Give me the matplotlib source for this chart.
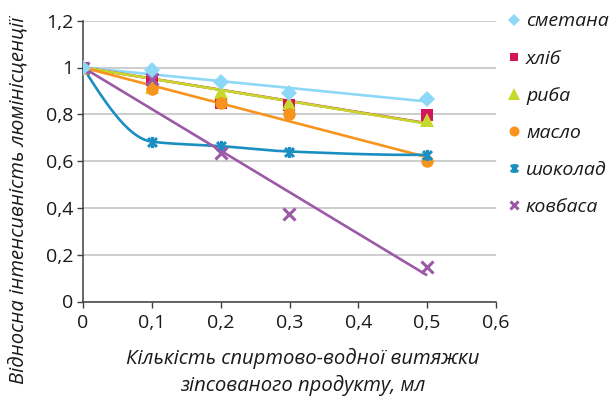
import matplotlib
matplotlib.use("Agg")
import matplotlib.pyplot as plt
from matplotlib.ticker import FuncFormatter
from matplotlib.path import Path
import numpy as np

# data
volume = [0, 0.1, 0.2, 0.3, 0.5]
smetana = [1, 0.99, 0.94, 0.89, 0.865]
khlib = [1, 0.945, 0.85, 0.84, 0.795]
ryba = [1, 0.915, 0.895, 0.85, 0.775]
maslo = [1, 0.91, 0.85, 0.80, 0.60]
shokolad = [1, 0.683, 0.664, 0.641, 0.627]
kovbasa = [1, 0.95, 0.633, 0.372, 0.148]

names = ["сметана", "хліб", "риба", "масло", "шоколад", "ковбаса"]
colors = ["#8dd7f7", "#d4145a", "#c5d92d", "#f7941d", "#1b8fc2", "#9b59a6"]

FONT = "Open Sans"

# excel "star" marker: an x with a vertical stroke
star = Path([(-1, -1), (1, 1), (-1, 1), (1, -1), (0, -1.25), (0, 1.25)],
            [Path.MOVETO, Path.LINETO, Path.MOVETO, Path.LINETO, Path.MOVETO, Path.LINETO])
markers = ["D", "s", "^", "o", star, "x"]
msizes = [8, 8, 10, 9, 8, 8]


def trend_through_one(x, y):
    # linear trendline with intercept fixed at 1 (like excel)
    x = np.array(x)
    y = np.array(y)
    b = np.sum(x * (y - 1)) / np.sum(x ** 2)
    xx = np.array([x.min(), x.max()])
    return xx, 1 + b * xx


def smooth_line(x, y, n=40):
    # monotone cubic (fritsch-carlson) so the curve does not wiggle
    x = np.array(x, float)
    y = np.array(y, float)
    h = np.diff(x)
    d = np.diff(y) / h
    m = np.zeros_like(y)
    for i in range(1, len(x) - 1):
        if d[i - 1] * d[i] > 0:
            w1 = 2 * h[i] + h[i - 1]
            w2 = h[i] + 2 * h[i - 1]
            m[i] = (w1 + w2) / (w1 / d[i - 1] + w2 / d[i])
    m[0] = ((2 * h[0] + h[1]) * d[0] - h[0] * d[1]) / (h[0] + h[1])
    m[-1] = ((2 * h[-1] + h[-2]) * d[-1] - h[-1] * d[-2]) / (h[-1] + h[-2])
    xs, ys = [], []
    for i in range(len(x) - 1):
        t = np.linspace(0, 1, n)
        h00 = 2 * t ** 3 - 3 * t ** 2 + 1
        h10 = t ** 3 - 2 * t ** 2 + t
        h01 = -2 * t ** 3 + 3 * t ** 2
        h11 = t ** 3 - t ** 2
        xs.append(x[i] + t * h[i])
        ys.append(h00 * y[i] + h10 * h[i] * m[i] + h01 * y[i + 1] + h11 * h[i] * m[i + 1])
    return np.concatenate(xs), np.concatenate(ys)


def main():
    plt.rcParams['font.family'] = [FONT, "DejaVu Sans"]
    fig = plt.figure(figsize=(6.16, 4.0), dpi=100)
    ax = fig.add_axes([83 / 616, 1 - 301.5 / 400, 413 / 616, 280.8 / 400])

    series = [smetana, khlib, ryba, maslo, shokolad, kovbasa]
    handles = []
    for k, vals in enumerate(series):
        if names[k] == "шоколад":
            lx, ly = smooth_line(volume, vals)
        else:
            lx, ly = trend_through_one(volume, vals)
        ax.plot(lx, ly, color=colors[k], lw=1.9, zorder=3, solid_capstyle='butt')
        if k >= 4:
            h, = ax.plot(volume, vals, linestyle='none', marker=markers[k],
                         markersize=msizes[k], markeredgecolor=colors[k],
                         markerfacecolor='none', markeredgewidth=2.2, zorder=4 + k)
        else:
            h, = ax.plot(volume, vals, linestyle='none', marker=markers[k],
                         markersize=msizes[k], color=colors[k], markeredgewidth=0,
                         zorder=4 + (6 if k == 0 else k))
        handles.append(h)

    ax.set_xlim(0, 0.6)
    ax.set_ylim(0, 1.2)
    ax.set_xticks(np.arange(0, 0.61, 0.1))
    ax.set_yticks(np.arange(0, 1.21, 0.2))
    fmt = FuncFormatter(lambda v, p: ("%g" % round(v, 2)).replace(".", ","))
    ax.xaxis.set_major_formatter(fmt)
    ax.yaxis.set_major_formatter(fmt)
    ax.tick_params(labelsize=14, length=4, width=1, color="#404040", labelcolor="#1a1a1a")
    ax.tick_params(axis='x', pad=5)
    ax.tick_params(axis='y', pad=3)

    ax.grid(axis='y', color="#c0c0c0", lw=1.1)
    ax.set_axisbelow(True)
    for s in ["top", "right"]:
        ax.spines[s].set_visible(False)
    for s in ["left", "bottom"]:
        ax.spines[s].set_color("#404040")
        ax.spines[s].set_linewidth(1.1)

    ax.set_xlabel("Кількість спиртово-водної витяжки\nзіпсованого продукту, мл",
                  fontsize=14.6, style='italic', color="#1a1a1a", linespacing=1.4)
    ax.xaxis.set_label_coords(0.533, -0.165)
    ax.xaxis.label.set_va('top')
    ax.set_ylabel("Відносна інтенсивність люмінісценції", fontsize=14.6,
                  style='italic', color="#1a1a1a")
    ax.yaxis.set_label_coords(-0.157, 0.36)
    ax.yaxis.label.set_va('center')

    leg = fig.legend(handles, names, loc='upper left',
                     bbox_to_anchor=(489 / 616, 1 + 5 / 400), frameon=False,
                     prop={'family': [FONT, "DejaVu Sans"], 'style': 'italic', 'size': 14},
                     labelspacing=0.98, handlelength=0.8, handletextpad=0.2,
                     markerscale=0.8)
    for t in leg.get_texts():
        t.set_color("#1a1a1a")

    plt.savefig("out.png", dpi=100)


if __name__ == "__main__":
    main()
